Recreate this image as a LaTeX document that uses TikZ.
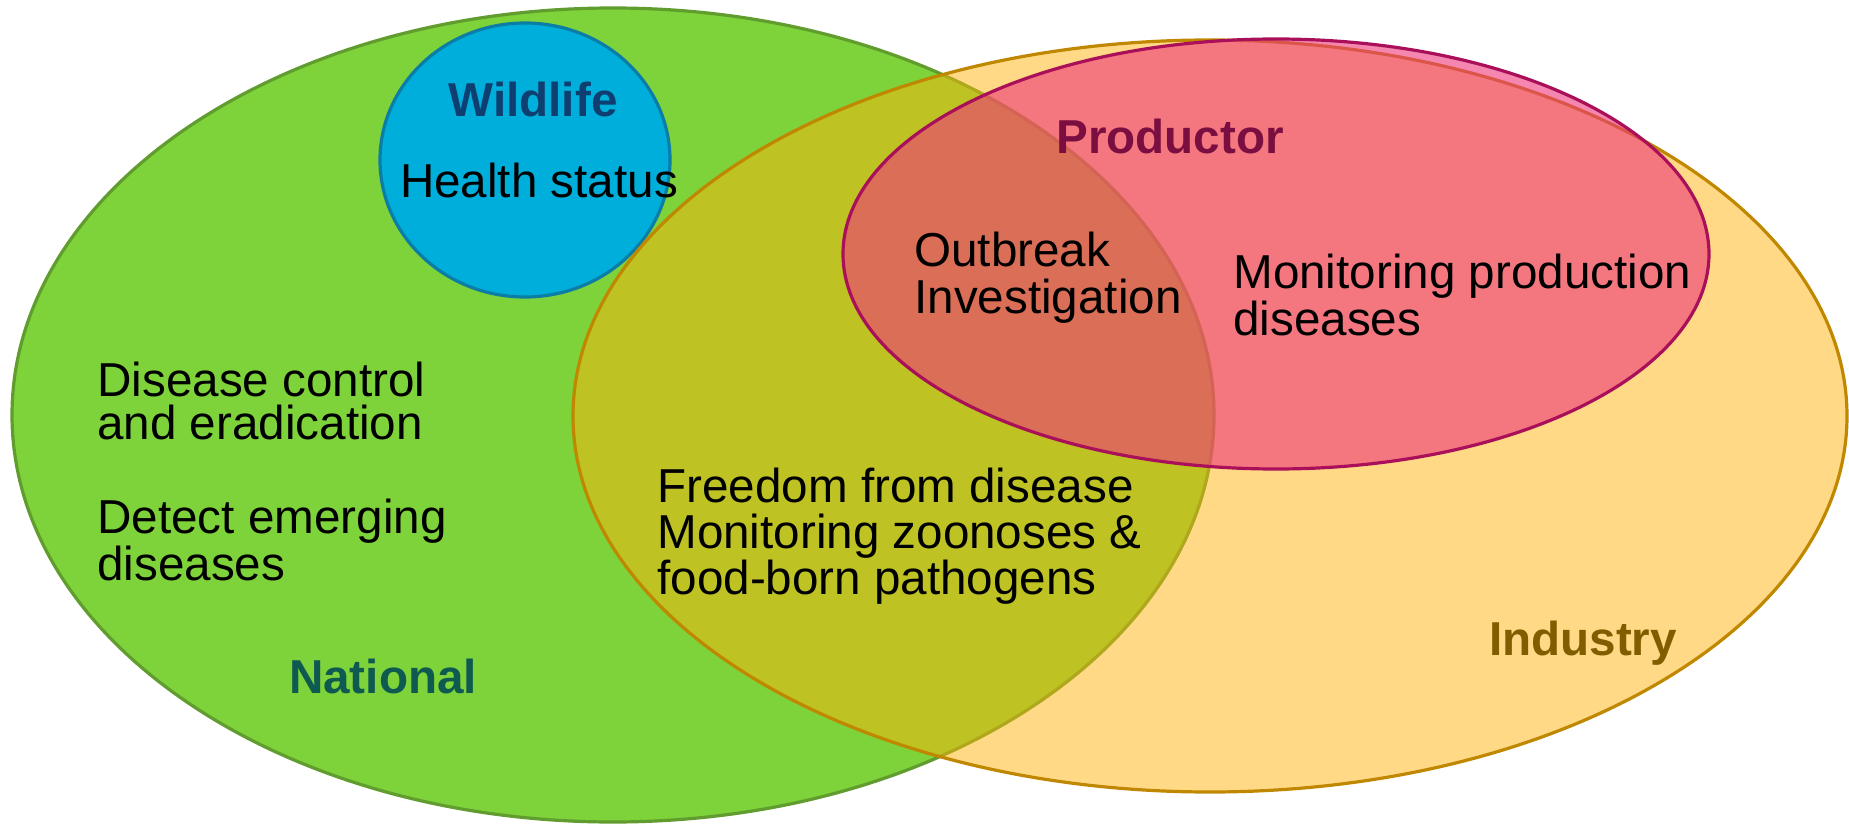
\documentclass[tikz,border=0pt]{standalone}
\usepackage{fontspec}
\setmainfont{Liberation Sans}
\begin{document}
\definecolor{natfill}{RGB}{126,210,58}
\definecolor{natline}{RGB}{96,156,46}
\definecolor{indfill}{RGB}{255,179,11}
\definecolor{indline}{RGB}{192,136,0}
\definecolor{prodfill}{RGB}{237,54,123}
\definecolor{prodline}{RGB}{170,16,90}
\definecolor{wildfill}{RGB}{0,174,219}
\definecolor{wildline}{RGB}{12,126,166}
\definecolor{wildtxt}{RGB}{15,62,112}
\definecolor{prodtxt}{RGB}{122,14,64}
\definecolor{nattxt}{RGB}{14,90,80}
\definecolor{indtxt}{RGB}{128,94,0}
\begin{tikzpicture}[x=0.5pt,y=-0.5pt,
  rim/.style={line width=1.6pt},
  body/.style={font=\fontsize{23.8}{21.2}\selectfont, align=left, anchor=west, inner sep=0pt},
  title/.style={font=\fontsize{23.8}{24}\selectfont\bfseries, inner sep=0pt}]
\useasboundingbox (0,0) rectangle (1849,824);
% National
\draw[rim, draw=natline, fill=natfill] (613,415) ellipse [x radius=601, y radius=407];
% Wildlife
\draw[rim, draw=wildline, fill=wildfill] (525,160) ellipse [x radius=145, y radius=137];
% Industry (translucent)
\draw[rim, draw=indline, fill=indfill, fill opacity=0.5] (1210,416) ellipse [x radius=637, y radius=376];
% Productor (translucent)
\draw[rim, draw=prodline, fill=prodfill, fill opacity=0.6] (1276,254) ellipse [x radius=433, y radius=215];

% labels
\node[title, text=wildtxt] (wild) at (533,99) {Wildlife};
\node[title, text=prodtxt] (prod) at (1170,136) {Productor};
\node[title, text=nattxt] (nat) at (383,676) {National};
\node[title, text=indtxt] (ind) at (1583,643) {Industry};

\node[body, anchor=center] (health) at (539,180) {Health status};
\node[body, font=\fontsize{23.8}{23.6}\selectfont] (outbreak) at (914,278) {Outbreak\\Investigation};
\node[body] (monprod) at (1233,295) {Monitoring production\\diseases};
\node[body] (control) at (97,401) {Disease control\\and eradication};
\node[body] (emerging) at (97,540) {Detect emerging\\diseases};
\node[body, font=\fontsize{23.8}{23}\selectfont] (freedom) at (657,536) {Freedom from disease\\Monitoring zoonoses \&\\food-born pathogens};
\end{tikzpicture}
\end{document}
